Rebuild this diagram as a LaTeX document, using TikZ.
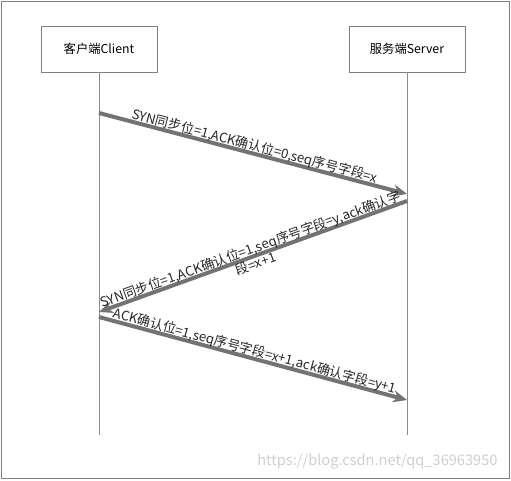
\documentclass[tikz,border=0pt]{standalone}
\usepackage{fontspec}
\setmainfont{Noto Sans CJK SC}
\usepackage{tikz}
\usetikzlibrary{arrows.meta,positioning,calc}
\definecolor{edge}{HTML}{737373}
\definecolor{rim}{HTML}{7F7F7F}
\definecolor{thin}{HTML}{8C8C8C}
\definecolor{faint}{HTML}{CFCFCF}
\tikzset{
  >={Stealth[length=14pt,width=12pt]},
  party/.style={draw=rim,line width=0.8pt,minimum width=116pt,minimum height=46pt,inner sep=0pt,font=\fontsize{12.3}{14}\selectfont},
  lifeline/.style={draw=thin,line width=0.8pt},
  msg/.style={->,draw=edge,line width=4pt},
  lbl/.style={sloped,inner sep=1pt,align=center,text=black!85,font=\fontsize{13.2}{13}\selectfont},
  wmark/.style={text=faint,font=\fontsize{14.6}{16}\selectfont},
}
\begin{document}
\begin{tikzpicture}[x=1pt,y=-1pt]
\useasboundingbox (0,0) rectangle (511,480);
\draw[rim,line width=0.8pt] (1,1) rectangle (509,478);
% the two parties
\node[party] (client) at (99,49) {客户端Client};
\node[party] (server) at (407,49) {服务端Server};
\coordinate (cend) at (99,435);
\coordinate (send) at (407,435);
\draw[lifeline] (client) -- (cend);
\draw[lifeline] (server) -- (send);
% three-way handshake
\coordinate (c1) at (99,113);
\coordinate (s1) at (407,194);
\coordinate (s2) at (407,201);
\coordinate (c2) at (99,312);
\coordinate (c3) at (99,317);
\coordinate (s3) at (407,400);
\draw[msg] (c1) -- node[lbl,above=-3pt] {SYN同步位=1,ACK确认位=0,seq序号字段=x} (s1);
\draw[msg] (s2) -- node[lbl] {SYN同步位=1,ACK确认位=1,seq序号字段=y,ack确认字\\段=x+1} (c2);
\draw[msg] (c3) -- node[lbl,above=-3pt] {ACK确认位=1,seq序号字段=x+1,ack确认字段=y+1} (s3);
\node[wmark,anchor=east] (wm) at (501,462) {https://blog.csdn.net/qq\_36963950};
\end{tikzpicture}
\end{document}
